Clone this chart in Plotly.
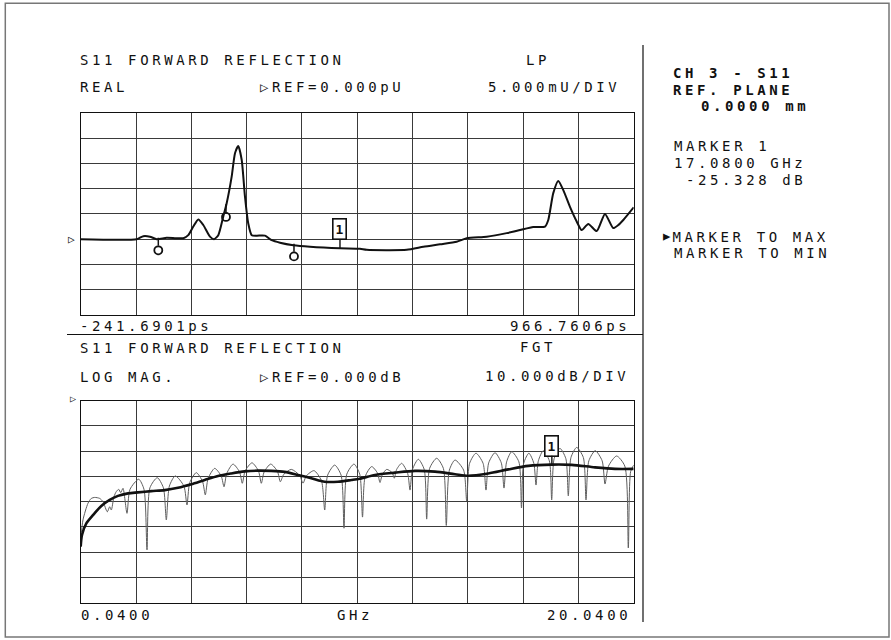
import plotly.graph_objects as go

# ---------------- data ----------------
# Upper trace: time-domain (LP) real response
time_ps = [-241.69, -119.3, -104.9, -90.3, -75.6, -53.8, -33.4, -17.5, -6.6, 4.4,
           15.3, 26.2, 40.8, 49.6, 59.0, 69.9, 77.3, 88.3, 95.5, 102.7,
           110.1, 117.3, 124.5, 132.0, 142.9, 161.0, 175.7, 193.8, 222.9, 259.4,
           324.9, 368.6, 383.3, 470.7, 507.0, 543.5, 579.9, 601.8, 645.5, 689.2,
           718.3, 747.3, 772.9, 780.1, 791.0, 801.9, 812.9, 827.5, 842.2, 853.1,
           867.5, 885.9, 904.0, 922.1, 933.1, 944.0, 966.76]
real_mU = [0.0, 0.0, 0.6, 0.5, 0.0, 0.3, 0.2, 0.2, 0.8, 2.5,
           3.9, 2.8, 0.5, 0.0, 0.8, 4.5, 7.1, 12.4, 17.0, 18.4,
           15.7, 8.4, 3.1, 0.8, 0.7, 0.7, -0.2, -0.7, -1.2, -1.5,
           -1.8, -1.9, -2.1, -2.1, -1.5, -1.0, -0.5, 0.2, 0.5, 1.2,
           1.8, 2.4, 2.5, 3.8, 9.1, 11.5, 9.7, 6.4, 3.5, 1.8,
           3.0, 1.6, 5.0, 2.2, 2.8, 3.8, 6.3]

# gate / inactive markers on the upper trace
gate_ps = [-72.1, 75.8, 224.4]
gate_mU = [0.0, 6.6, -1.2]
marker1_ps = 324.9
marker1_mU = -1.8

# Lower trace: frequency-domain log magnitude (gated = thick, ungated = thin)
gated_ghz = [0.04, 0.087, 0.243, 0.485, 0.785, 1.089, 1.389, 1.751, 2.112, 2.593,
             3.078, 3.559, 4.040, 4.525, 5.006, 5.487, 5.971, 6.452, 6.933, 7.418,
             7.899, 8.380, 8.865, 9.346, 9.827, 10.130, 10.684, 11.407, 12.130, 12.854,
             13.577, 14.058, 14.781, 15.505, 16.228, 17.080, 17.798, 18.640, 19.364, 20.04]
gated_db = [-57.8, -53.2, -48.6, -45.3, -41.7, -39.3, -37.7, -36.7, -36.3, -35.8,
            -35.4, -34.5, -33.1, -31.4, -29.8, -28.8, -28.0, -27.7, -27.8, -28.2,
            -29.4, -30.7, -32.1, -32.1, -31.4, -30.9, -29.4, -28.5, -27.8, -28.1,
            -29.1, -29.7, -28.8, -27.2, -25.8, -25.3, -25.4, -26.4, -27.0, -27.0]

raw_ghz = [0.04, 0.123, 0.304, 0.423, 0.546, 0.727, 0.847, 1.002, 1.089, 1.147,
           1.244, 1.327, 1.414, 1.487, 1.570, 1.714, 1.823, 2.138, 2.329, 2.438,
           2.543, 2.810, 3.031, 3.136, 3.248, 3.461, 3.772, 3.884, 3.983, 4.221,
           4.447, 4.546, 4.648, 4.886, 5.121, 5.223, 5.322, 5.548, 5.785, 5.884,
           5.987, 6.235, 6.469, 6.572, 6.675, 6.912, 7.156, 7.259, 7.382, 7.657,
           7.957, 8.080, 8.198, 8.478, 8.747, 8.865, 8.970, 9.226, 9.458, 9.563,
           9.663, 9.924, 10.132, 10.232, 10.327, 10.564, 10.770, 10.865, 10.943, 11.107,
           11.304, 11.382, 11.467, 11.649, 11.865, 11.950, 12.040, 12.250, 12.463, 12.553,
           12.659, 12.915, 13.156, 13.262, 13.373, 13.577, 13.889, 14.000, 14.105, 14.336,
           14.593, 14.698, 14.796, 15.024, 15.251, 15.349, 15.444, 15.628, 15.887, 15.982,
           16.061, 16.250, 16.428, 16.507, 16.592, 16.770, 16.989, 17.074, 17.164, 17.374,
           17.585, 17.675, 17.771, 17.978, 18.219, 18.315, 18.418, 18.650, 18.899, 19.002,
           19.128, 19.420, 19.719, 19.845, 19.930, 20.040]
raw_db = [-55.0, -47.2, -40.6, -38.7, -38.3, -38.7, -40.0, -44.0, -42.0, -43.3,
          -38.0, -36.0, -35.1, -36.4, -34.7, -44.6, -35.1, -31.1, -35.1, -59.1,
          -34.5, -30.5, -34.5, -47.2, -33.8, -29.8, -33.8, -41.3, -32.5, -28.5,
          -32.0, -37.3, -30.8, -26.8, -29.8, -34.1, -28.8, -25.1, -28.2, -32.7,
          -27.8, -24.6, -27.8, -32.7, -28.2, -25.1, -28.0, -32.1, -29.2, -27.2,
          -29.6, -32.7, -29.8, -27.7, -31.7, -43.3, -29.5, -25.5, -29.5, -50.5,
          -29.1, -25.1, -29.1, -46.1, -30.1, -26.1, -28.6, -32.4, -29.4, -27.2,
          -28.5, -30.7, -27.2, -24.8, -28.8, -35.4, -27.2, -23.2, -27.2, -46.9,
          -26.8, -22.8, -26.8, -49.4, -27.5, -23.5, -27.5, -39.7, -24.8, -20.8,
          -24.8, -35.4, -24.6, -20.6, -24.6, -34.6, -24.2, -20.2, -24.2, -42.5,
          -24.8, -20.8, -24.8, -33.4, -23.8, -19.8, -23.8, -39.3, -22.9, -18.9,
          -22.9, -37.7, -22.5, -18.5, -22.5, -39.3, -23.8, -19.8, -23.8, -33.0,
          -25.9, -21.9, -25.9, -58.3, -28.0, -25.5]

marker1_ghz = 17.08
marker1_db = -25.328

# axis settings (instrument scale)
t_start, t_stop = -241.6901, 966.7606
real_ref, real_per_div = 0.0, 5.0
f_start, f_stop = 0.04, 20.04
db_ref, db_per_div = 0.0, 10.0

# ---------------- layout helpers ----------------
W, H = 891, 640
FONT = "DejaVu Sans Mono"
INK = "#111111"
LS = 3.6  # letter spacing of plotter lettering


def px(x):
    return x / W


def py(y):
    return 1 - y / H


def spaced(s):
    return f'<span style="letter-spacing:{LS}px">{s}</span>'


fig = go.Figure()

# upper trace
fig.add_trace(go.Scatter(x=time_ps, y=real_mU, mode="lines",
                         line=dict(color=INK, width=2, shape="spline", smoothing=0.6),
                         xaxis="x", yaxis="y", hoverinfo="skip"))
# gate marker ticks + circles
tick_x, tick_y = [], []
for gx, gv in zip(gate_ps, gate_mU):
    tick_x += [gx, gx, None]
    tick_y += [gv + 0.3, gv - 1.3, None]
fig.add_trace(go.Scatter(x=tick_x, y=tick_y, mode="lines",
                         line=dict(color=INK, width=1.5), xaxis="x", yaxis="y",
                         hoverinfo="skip"))
fig.add_trace(go.Scatter(x=gate_ps, y=[v - 2.2 for v in gate_mU], mode="markers",
                         marker=dict(symbol="circle-open", size=8, color=INK,
                                     line=dict(width=1.8, color=INK)),
                         xaxis="x", yaxis="y", hoverinfo="skip"))

# lower traces
fig.add_trace(go.Scatter(x=raw_ghz, y=raw_db, mode="lines",
                         line=dict(color="#5e5e5e", width=1.0, shape="spline", smoothing=0.7),
                         xaxis="x2", yaxis="y2", hoverinfo="skip"))
fig.add_trace(go.Scatter(x=gated_ghz, y=gated_db, mode="lines",
                         line=dict(color=INK, width=2.6, shape="spline", smoothing=0.8),
                         xaxis="x2", yaxis="y2", hoverinfo="skip"))

grid = dict(showgrid=True, gridcolor="#3a3a3a", gridwidth=1, zeroline=False,
            showticklabels=False, ticks="", showline=True, mirror=True,
            linecolor=INK, linewidth=1.2, fixedrange=True)

xdom = [px(80.7), px(633.7)]
fig.update_layout(
    width=W, height=H, margin=dict(l=0, r=0, t=0, b=0),
    paper_bgcolor="white", plot_bgcolor="white", showlegend=False,
    xaxis=dict(domain=xdom, range=[t_start, t_stop], tick0=t_start,
               dtick=(t_stop - t_start) / 10, anchor="y", **grid),
    yaxis=dict(domain=[py(315.1), py(112.7)],
               range=[real_ref - 3 * real_per_div, real_ref + 5 * real_per_div],
               tick0=real_ref, dtick=real_per_div, anchor="x", **grid),
    xaxis2=dict(domain=xdom, range=[f_start, f_stop], tick0=f_start,
                dtick=(f_stop - f_start) / 10, anchor="y2", **grid),
    yaxis2=dict(domain=[py(602.7), py(400.7)],
                range=[db_ref - 8 * db_per_div, db_ref], tick0=db_ref,
                dtick=db_per_div, anchor="x2", **grid),
)

anns = []


def text(s, x, y, anchor="left", bold=False, size=14):
    anns.append(dict(text=s, x=px(x), y=py(y), xref="paper", yref="paper",
                     xanchor=anchor, yanchor="middle", showarrow=False,
                     font=dict(family=FONT, size=size, color=INK,
                               weight="bold" if bold else "normal")))


# upper header
text(spaced("S11 FORWARD REFLECTION"), 78, 60)
text(spaced("LP"), 538, 60, "center")
text(spaced("REAL"), 78, 87)
text(spaced("▷REF=0.000pU"), 258, 87)
text(spaced("5.000mU/DIV"), 622, 87, "right")
text(spaced("-241.6901ps"), 78, 325.5)
text(spaced("966.7606ps"), 632, 325.5, "right")
# lower header
text(spaced("S11 FORWARD REFLECTION"), 78, 348)
text(spaced("FGT"), 538, 347, "center")
text(spaced("LOG MAG."), 78, 377)
text(spaced("▷REF=0.000dB"), 258, 377)
text(spaced("10.000dB/DIV"), 631, 376, "right")
text(spaced("0.0400"), 79, 615)
text(spaced("GHz"), 355, 615, "center")
text(spaced("20.0400"), 633, 614.5, "right")
# right panel
text(spaced("CH 3 - S11"), 671, 73, bold=True)
text(spaced("REF. PLANE"), 671, 89.5, bold=True)
text(spaced("0.0000 mm"), 699, 106.5, bold=True)
text(spaced("MARKER 1"), 672, 146)
text(spaced("17.0800 GHz"), 672, 163)
text(spaced("-25.328 dB"), 684, 180)
text('<span style="font-size:19px">▸</span>' + spaced("MARKER TO MAX"), 659, 235)
text(spaced("MARKER TO MIN"), 672, 252.5)

# reference-level triangles
anns.append(dict(text="▷", x=t_start, y=real_ref, xref="x", yref="y", xanchor="right",
                 yanchor="middle", xshift=-4, showarrow=False,
                 font=dict(family=FONT, size=11, color=INK)))
anns.append(dict(text="▷", x=f_start, y=db_ref, xref="x2", yref="y2", xanchor="right",
                 yanchor="middle", xshift=-3, yshift=2, showarrow=False,
                 font=dict(family=FONT, size=10, color=INK)))

# active marker "1" boxes
for xr, yr, mx, my in [("x", "y", marker1_ps, marker1_mU),
                       ("x2", "y2", marker1_ghz, marker1_db)]:
    anns.append(dict(text="<b>1</b>", x=mx, y=my, xref=xr, yref=yr, showarrow=True,
                     arrowhead=0, arrowwidth=1.4, arrowcolor=INK, ax=0, ay=-19,
                     bordercolor=INK, borderwidth=1.6, borderpad=2, bgcolor="white",
                     font=dict(family=FONT, size=13, color=INK)))

fig.update_layout(annotations=anns)

# frame and dividers
shapes = [
    dict(type="rect", xref="paper", yref="paper", x0=px(5.3), x1=px(889), y0=py(637),
         y1=py(3.3), line=dict(color="#777777", width=1.5)),
    dict(type="line", xref="paper", yref="paper", x0=px(643), x1=px(643), y0=py(622),
         y1=py(45), line=dict(color=INK, width=1.2)),
    dict(type="line", xref="paper", yref="paper", x0=px(67), x1=px(643), y0=py(334.5),
         y1=py(334.5), line=dict(color=INK, width=1.2)),
]
fig.update_layout(shapes=shapes)

fig.write_html("out.html",
               config={"displayModeBar": False, "staticPlot": True},
               post_script="document.body.style.margin='0px';"
                           "document.body.style.overflow='hidden';")
